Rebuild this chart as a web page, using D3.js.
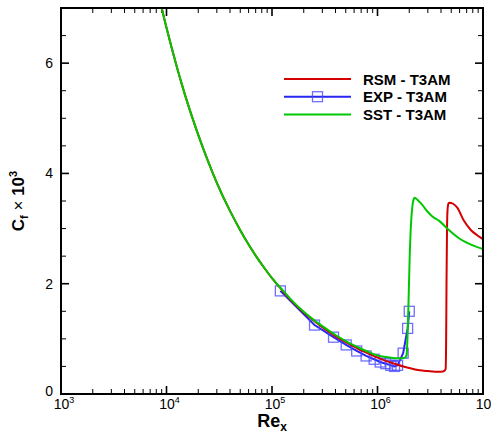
<!DOCTYPE html>
<html>
<head>
<meta charset="utf-8">
<script src="https://cdn.jsdelivr.net/npm/d3@7"></script>
<style>
  body { margin: 0; background: #fff; }
  svg { display: block; font-family: "Liberation Sans", Arial, sans-serif; }
</style>
</head>
<body>
<div id="chart"></div>
<script>
// --- Data (Cf x 10^3 against Re_x) ---
const xTickValues = [1e3, 1e4, 1e5, 1e6, 1e7];
const xTickPowers = ["3", "4", "5", "6", "7"];
const yTickValues = [0, 2, 4, 6];

const rsmRe = [8000, 10000, 12500, 15000, 20000, 25000, 30000, 40000, 50000, 60000, 70000, 85000,
  100000, 125000, 150000, 200000, 250000, 300000, 400000, 500000, 600000, 700000, 850000,
  1000000, 1200000, 1500000, 2000000, 2500000, 3000000, 3500000, 4000000, 4300000, 4420000,
  4470000, 4510000, 4560000, 4620000, 4720000, 4800000, 5200000, 5700000, 6600000, 7700000,
  8800000, 10000000];
const rsmCf = [7.42, 6.64, 5.94, 5.42, 4.70, 4.20, 3.83, 3.32, 2.97, 2.71, 2.51, 2.28,
  2.10, 1.88, 1.71, 1.48, 1.33, 1.21, 1.05, 0.94, 0.86, 0.79, 0.72,
  0.66, 0.60, 0.54, 0.47, 0.43, 0.415, 0.405, 0.405, 0.42, 0.45,
  0.9, 2.0, 3.0, 3.36, 3.46, 3.47, 3.45, 3.38, 3.14, 2.97,
  2.88, 2.81];

const sstRe = [8000, 10000, 12500, 15000, 20000, 25000, 30000, 40000, 50000, 60000, 70000, 85000,
  100000, 125000, 150000, 200000, 250000, 300000, 400000, 500000, 600000, 700000, 850000,
  1000000, 1200000, 1400000, 1600000, 1750000, 1850000, 1890000, 1930000, 1970000, 2020000,
  2080000, 2140000, 2200000, 2250000, 2400000, 2660000, 3000000, 3310000, 3850000, 4580000,
  5960000, 7900000, 10000000];
const sstCf = [7.42, 6.64, 5.94, 5.42, 4.70, 4.20, 3.83, 3.32, 2.97, 2.71, 2.51, 2.28,
  2.10, 1.89, 1.72, 1.49, 1.34, 1.23, 1.07, 0.96, 0.88, 0.82, 0.75,
  0.70, 0.67, 0.655, 0.65, 0.65, 0.67, 0.72, 1.1, 1.7, 2.5,
  3.1, 3.4, 3.53, 3.56, 3.52, 3.43, 3.30, 3.22, 3.14, 3.00,
  2.82, 2.70, 2.63];

const expRe = [120000, 253000, 383000, 505000, 635000, 780000, 930000, 1060000, 1200000,
  1340000, 1450000, 1550000, 1750000, 1930000, 2000000];
const expCf = [1.87, 1.25, 1.03, 0.89, 0.78, 0.69, 0.63, 0.58, 0.55,
  0.52, 0.50, 0.52, 0.74, 1.19, 1.50];

const legendLabels = ["RSM - T3AM", "EXP - T3AM", "SST - T3AM"];
const seriesColors = ["#d40000", "#2626f0", "#00c800"];

// --- Layout ---
const width = 491, height = 434;
const margin = { top: 8, right: 8, bottom: 40, left: 61 };

const svg = d3.select("#chart").append("svg")
  .attr("width", width)
  .attr("height", height);

const x = d3.scaleLog().domain([1e3, 1e7]).range([margin.left, width - margin.right]);
const y = d3.scaleLinear().domain([0, 7]).range([height - margin.bottom, margin.top]);
const x0 = x.range()[0], x1 = x.range()[1], y0 = y.range()[0], y1 = y.range()[1];

svg.append("clipPath").attr("id", "plot-clip")
  .append("rect").attr("x", x0).attr("y", y1).attr("width", x1 - x0).attr("height", y0 - y1);

// minor ticks
const xMinor = [];
for (let p = 3; p < 7; p++) for (let m = 2; m <= 9; m++) xMinor.push(m * Math.pow(10, p));
const yMinor = d3.range(0.5, 7, 0.5).filter(v => v % 2 !== 0);

const tickG = svg.append("g").attr("stroke", "#000");
function xTicks(vals, len, w) {
  vals.forEach(v => {
    tickG.append("line").attr("x1", x(v)).attr("x2", x(v)).attr("y1", y0).attr("y2", y0 - len).attr("stroke-width", w);
    tickG.append("line").attr("x1", x(v)).attr("x2", x(v)).attr("y1", y1).attr("y2", y1 + len).attr("stroke-width", w);
  });
}
function yTicks(vals, len, w) {
  vals.forEach(v => {
    tickG.append("line").attr("y1", y(v)).attr("y2", y(v)).attr("x1", x0).attr("x2", x0 + len).attr("stroke-width", w);
    tickG.append("line").attr("y1", y(v)).attr("y2", y(v)).attr("x1", x1).attr("x2", x1 - len).attr("stroke-width", w);
  });
}
xTicks(xMinor, 5, 1);
xTicks(xTickValues, 8, 1.6);
yTicks(yMinor, 5, 1);
yTicks(yTickValues, 8, 1.6);

// --- Curves ---
const plotG = svg.append("g").attr("clip-path", "url(#plot-clip)");
const line = d3.line().x(d => x(d[0])).y(d => y(d[1]));

const expPts = d3.zip(expRe, expCf);
plotG.append("path")
  .attr("d", line(expPts))
  .attr("fill", "none").attr("stroke", seriesColors[1]).attr("stroke-width", 2);
plotG.selectAll(".exp-marker").data(expPts).enter().append("rect")
  .attr("class", "exp-marker")
  .attr("x", d => x(d[0]) - 5).attr("y", d => y(d[1]) - 5)
  .attr("width", 10).attr("height", 10)
  .attr("fill", "none").attr("stroke", "#4b4bff").attr("stroke-opacity", 0.8).attr("stroke-width", 1.3);

const curved = d3.line().x(d => x(d[0])).y(d => y(d[1])).curve(d3.curveMonotoneX);
plotG.append("path")
  .attr("d", curved(d3.zip(rsmRe, rsmCf)))
  .attr("fill", "none").attr("stroke", seriesColors[0]).attr("stroke-width", 2);
plotG.append("path")
  .attr("d", curved(d3.zip(sstRe, sstCf)))
  .attr("fill", "none").attr("stroke", seriesColors[2]).attr("stroke-width", 2);

// --- Frame ---
svg.append("rect")
  .attr("x", x0).attr("y", y1).attr("width", x1 - x0).attr("height", y0 - y1)
  .attr("fill", "none").attr("stroke", "#000").attr("stroke-width", 2);

// --- Tick labels ---
xTickValues.forEach((v, i) => {
  const t = svg.append("text")
    .attr("x", x(v) + 3).attr("y", y0 + 15)
    .attr("text-anchor", "middle")
    .attr("font-size", 14).attr("fill", "#000");
  t.append("tspan").text("10");
  t.append("tspan").attr("dy", -6).attr("font-size", 9).text(xTickPowers[i]);
});
yTickValues.forEach(v => {
  svg.append("text")
    .attr("x", x0 - 8).attr("y", y(v) - (v === 0 ? 3 : 0))
    .attr("text-anchor", "end").attr("dominant-baseline", "central")
    .attr("font-size", 14).attr("fill", "#000")
    .text(v);
});

// --- Axis titles ---
const xTitle = svg.append("text")
  .attr("x", (x0 + x1) / 2).attr("y", 427)
  .attr("text-anchor", "middle").attr("font-size", 18).attr("font-weight", "bold");
xTitle.append("tspan").text("Re");
xTitle.append("tspan").attr("dy", 4).attr("font-size", 12).text("x");

const yTitle = svg.append("text")
  .attr("transform", `translate(24,${(y0 + y1) / 2}) rotate(-90)`)
  .attr("text-anchor", "middle").attr("font-size", 17).attr("font-weight", "bold");
yTitle.append("tspan").text("C");
yTitle.append("tspan").attr("dy", 4).attr("font-size", 11).text("f");
yTitle.append("tspan").attr("dy", -4).attr("font-weight", "normal").text(" \u00d7 ");
yTitle.append("tspan").text("10");
yTitle.append("tspan").attr("dy", -7).attr("font-size", 11).text("3");

// --- Legend ---
const legend = svg.append("g").attr("transform", "translate(284,79)");
legendLabels.forEach((lab, i) => {
  const gy = i * 17.7;
  legend.append("line")
    .attr("x1", 0).attr("x2", 67).attr("y1", gy).attr("y2", gy)
    .attr("stroke", seriesColors[i]).attr("stroke-width", 2);
  if (i === 1) {
    legend.append("rect")
      .attr("x", 33.5 - 5).attr("y", gy - 5).attr("width", 10).attr("height", 10)
      .attr("fill", "none").attr("stroke", "#4b4bff").attr("stroke-opacity", 0.8).attr("stroke-width", 1.3);
  }
  legend.append("text")
    .attr("x", 79).attr("y", gy + 5.5)
    .attr("font-size", 15).attr("font-weight", "bold")
    .text(lab);
});
</script>
</body>
</html>
